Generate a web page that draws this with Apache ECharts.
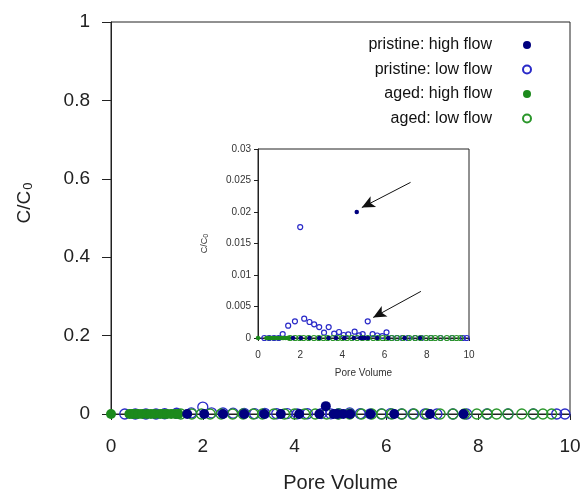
<!DOCTYPE html>
<html>
<head>
<meta charset="utf-8">
<script src="https://cdn.jsdelivr.net/npm/echarts@6/dist/echarts.min.js"></script>
<style>
html,body{margin:0;padding:0;background:#fff;}
#c{width:583px;height:491px;}
</style>
</head>
<body>
<div id="c"></div>
<script>
// ---- data (pore volume, C/C0) ----
var pristineHighX = [1.66, 2.03, 2.44, 2.90, 3.34, 3.70, 4.10, 4.54, 4.68, 4.85, 4.93, 5.06, 5.21, 5.65, 6.17, 6.95, 7.68];
var pristineHighY = [0, 0, 0, 0, 0, 0, 0, 0, 0.0200, 0, 0, 0, 0, 0, 0, 0, 0];

var pristineLowX = [0.30, 0.53, 0.76, 0.98, 1.17, 1.43, 1.75, 2.00, 2.19, 2.44, 2.66, 2.90, 3.13, 3.35, 3.61, 3.84, 4.06, 4.28, 4.58, 4.79, 4.96, 5.20, 5.43, 5.65, 5.89, 6.09, 6.33, 6.58, 6.84, 7.10, 7.45, 7.75, 8.19, 8.65, 9.20, 9.71, 9.89];
var pristineLowY = [0, 0, 0, 0, 0.00063, 0.00195, 0.00264, 0.0176, 0.00306, 0.00254, 0.00217, 0.00174, 0.00085, 0.00174, 0.0007, 0.00095, 0.00048, 0.00058, 0.0010, 0.00042, 0.00063, 0.00264, 0.00063, 0.0004, 0.0003, 0.0009, 0, 0, 0, 0, 0, 0, 0, 0, 0, 0, 0];

var agedHighX = [0, 0.40, 0.46, 0.53, 0.60, 0.68, 0.78, 0.87, 0.96, 1.07, 1.15, 1.22, 1.31, 1.40, 1.47];
var agedHighY = [0, 0, 0, 0, 0, 0, 0, 0, 0, 0, 0, 0, 0, 0, 0];

var agedLowX = [1.52, 1.76, 1.97, 2.16, 2.40, 2.65, 2.88, 3.10, 3.30, 3.55, 3.78, 4.00, 4.22, 4.45, 4.70, 4.95, 5.20, 5.46, 5.68, 5.90, 6.12, 6.34, 6.60, 6.88, 7.17, 7.45, 7.70, 7.97, 8.20, 8.40, 8.65, 8.95, 9.20, 9.41, 9.60];
var agedLowY = [0, 0, 0, 0, 0, 0, 0, 0, 0, 0, 0, 0, 0, 0, 0, 0, 0, 0, 0, 0, 0, 0, 0, 0, 0, 0, 0, 0, 0, 0, 0, 0, 0, 0, 0];

var seriesNames = ['pristine: high flow', 'pristine: low flow', 'aged: high flow', 'aged: low flow'];
var mainXTicks = [0, 2, 4, 6, 8, 10];
var mainYTicks = [0, 0.2, 0.4, 0.6, 0.8, 1];
var insetYTicks = [0, 0.005, 0.01, 0.015, 0.02, 0.025, 0.03];

// annotation arrows in inset (data coords): [fromX, fromY, toX, toY]
var arrows = [[7.23, 0.0247, 4.92, 0.0207], [7.72, 0.0074, 5.46, 0.00326]];

function zip(xs, ys) { return xs.map(function (x, i) { return [x, ys[i]]; }); }

var navy = '#00007f', blue = '#2a2ac8', green = '#1c8a1c', green2 = '#2a962a';
var font = 'Liberation Sans, Arial, sans-serif';

function mk(name, data, filled, col, size, xi, yi) {
  return {
    name: name, type: 'scatter', xAxisIndex: xi, yAxisIndex: yi,
    data: data, symbol: 'circle', symbolSize: size, clip: false,
    z: xi === 0 ? 2 : 12,
    itemStyle: filled ? { color: col, opacity: 1 } : { color: 'rgba(255,255,255,0)', borderColor: col, borderWidth: xi === 0 ? 1.3 : 1.2, opacity: 1 },
    emphasis: { disabled: true }
  };
}

var series = [];
// main
series.push(mk(seriesNames[1], zip(pristineLowX, pristineLowY), false, blue, 10, 0, 0));
series.push(mk(seriesNames[3], zip(agedLowX, agedLowY), false, green2, 10, 0, 0));
series.push(mk(seriesNames[2], zip(agedHighX, agedHighY), true, green, 10, 0, 0));
series.push(mk(seriesNames[0], zip(pristineHighX, pristineHighY), true, navy, 10, 0, 0));
// inset
series.push(mk(seriesNames[1], zip(pristineLowX, pristineLowY), false, blue, 5, 1, 1));
series.push(mk(seriesNames[3], zip(agedLowX, agedLowY), false, green2, 5, 1, 1));
series.push(mk(seriesNames[2], zip(agedHighX, agedHighY), true, green, 4.5, 1, 1));
var ph = mk(seriesNames[0], zip(pristineHighX, pristineHighY), true, navy, 4.5, 1, 1);
ph.markLine = {
  silent: true, symbol: ['none', 'arrow'], symbolSize: [9, 13], animation: false,
  lineStyle: { color: '#111', width: 1, type: 'solid' }, label: { show: false },
  data: arrows.map(function (a) { return [{ coord: [a[0], a[1]] }, { coord: [a[2], a[3]] }]; })
};
series.push(ph);

var chart = echarts.init(document.getElementById('c'), null, { renderer: 'canvas' });
chart.setOption({
  backgroundColor: '#fff',
  animation: false,
  textStyle: { fontFamily: font },
  legend: {
    orient: 'vertical', right: 46, top: 32, align: 'right',
    itemWidth: 60, itemHeight: 8, itemGap: 8.5,
    textStyle: { fontSize: 16, color: '#111', fontFamily: font },
    data: [
      { name: seriesNames[0], icon: 'circle' },
      { name: seriesNames[1], icon: 'circle' },
      { name: seriesNames[2], icon: 'circle' },
      { name: seriesNames[3], icon: 'circle' }
    ],
    selectedMode: false
  },
  grid: [
    { left: 111, right: 13, top: 22, bottom: 77, show: true, borderColor: '#222', borderWidth: 1, backgroundColor: 'transparent', containLabel: false, outerBoundsMode: 'none' },
    { left: 258, top: 149, width: 211, height: 189, show: true, borderColor: '#222', borderWidth: 1, backgroundColor: '#fff', containLabel: false, outerBoundsMode: 'none', z: 5 }
  ],
  xAxis: [
    {
      gridIndex: 0, type: 'value', min: mainXTicks[0], max: mainXTicks[mainXTicks.length - 1], interval: 2,
      name: 'Pore Volume', nameLocation: 'middle', nameGap: 59,
      nameTextStyle: { fontSize: 20, color: '#222', fontFamily: font },
      axisLine: { show: true, onZero: false, lineStyle: { color: '#222', width: 1 } },
      axisTick: { show: true, inside: false, length: 6, lineStyle: { color: '#222' } },
      axisLabel: { fontSize: 19, color: '#222', margin: 23, fontFamily: font },
      splitLine: { show: false }
    },
    {
      gridIndex: 1, type: 'value', min: 0, max: 10, interval: 2,
      name: 'Pore Volume', nameLocation: 'middle', nameGap: 30, z: 6,
      nameTextStyle: { fontSize: 10, color: '#333', fontFamily: font },
      axisLine: { show: true, onZero: false, lineStyle: { color: '#222', width: 1 } },
      axisTick: { show: true, inside: false, length: 3, lineStyle: { color: '#222' } },
      axisLabel: { fontSize: 10, color: '#333', margin: 12, fontFamily: font },
      splitLine: { show: false }
    }
  ],
  yAxis: [
    {
      gridIndex: 0, type: 'value', min: mainYTicks[0], max: mainYTicks[mainYTicks.length - 1], interval: 0.2,
      name: '{a|C/C}{b|0}', nameLocation: 'middle', nameGap: 76, nameRotate: 90,
      nameTextStyle: {
        fontSize: 19, color: '#222', fontFamily: font, padding: [0, 0, 0, 30],
        rich: { a: { fontSize: 19, color: '#222', fontFamily: font }, b: { fontSize: 13, color: '#222', fontFamily: font, padding: [8, 0, 0, 1] } }
      },
      axisLine: { show: true, onZero: false, lineStyle: { color: '#222', width: 1 } },
      axisTick: { show: true, inside: false, length: 9, lineStyle: { color: '#222' } },
      axisLabel: { fontSize: 19, color: '#222', margin: 21, fontFamily: font },
      splitLine: { show: false }
    },
    {
      gridIndex: 1, type: 'value', min: insetYTicks[0], max: insetYTicks[insetYTicks.length - 1], interval: 0.005,
      name: '{a|C/C}{b|0}', nameLocation: 'middle', nameGap: 48, nameRotate: 90, z: 6,
      nameTextStyle: {
        fontSize: 9, color: '#333', fontFamily: font,
        rich: { a: { fontSize: 9, color: '#333', fontFamily: font }, b: { fontSize: 7, color: '#333', fontFamily: font, padding: [4, 0, 0, 0] } }
      },
      axisLine: { show: true, onZero: false, lineStyle: { color: '#222', width: 1 } },
      axisTick: { show: true, inside: false, length: 4, lineStyle: { color: '#222' } },
      axisLabel: { fontSize: 10, color: '#333', margin: 7, fontFamily: font },
      splitLine: { show: false }
    }
  ],
  series: series
});
</script>
</body>
</html>
